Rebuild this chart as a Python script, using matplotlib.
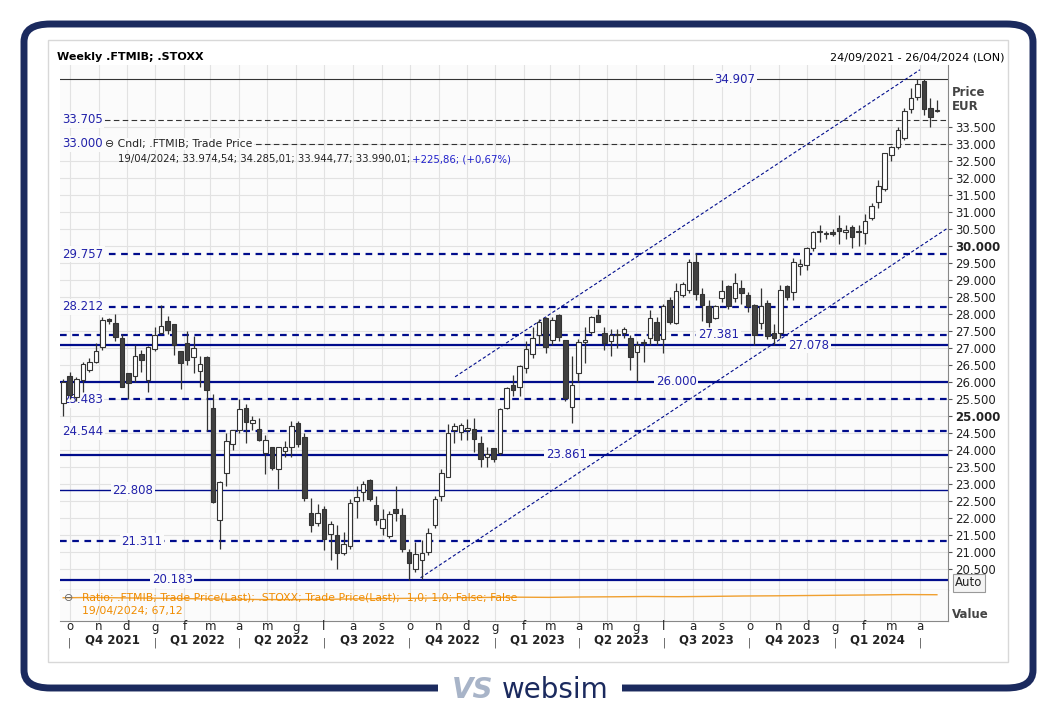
import numpy as np
import pandas as pd
import matplotlib
matplotlib.use("Agg")
import matplotlib.pyplot as plt
from matplotlib.patches import FancyBboxPatch, Rectangle
import matplotlib.transforms as mtransforms

plt.rcParams['font.family'] = ['DejaVu Sans']

start = pd.Timestamp("2021-09-24")
opens = [25.38,26.16,25.57,26.06,26.35,26.6,27.04,27.84,27.73,27.28,26.25,26.18,26.82,26.06,26.96,27.43,27.79,27.7,26.91,27.14,
 26.72,26.33,26.72,25.24,21.94,23.33,24.18,24.59,25.23,24.79,24.61,23.90,24.1,23.43,23.97,24.08,24.78,24.39,22.14,21.86,
 22.25,21.52,21.5,20.96,21.16,22.51,22.76,23.12,22.38,21.70,21.47,22.25,22.09,20.99,20.49,20.76,20.99,21.79,22.63,23.2,
 24.59,24.54,24.6,24.62,24.2,23.8,24.05,23.9,25.23,25.91,25.84,26.4,26.82,27.38,27.87,27.24,27.97,27.23,25.26,26.27,
 27.17,27.48,27.97,27.43,27.19,27.38,27.45,27.3,26.89,27.13,27.28,27.75,27.25,28.41,27.73,28.56,28.69,29.52,28.58,28.23,
 27.87,28.46,28.82,28.46,28.75,28.56,28.26,27.73,28.33,27.45,27.43,28.82,28.63,29.42,29.44,29.93,30.40,30.34,30.42,30.52,
 30.40,30.55,30.43,30.39,30.81,31.3,31.67,32.67,32.9,33.17,34.02,34.39,34.85,34.05,33.97]
closes = [26.01,25.62,26.08,26.53,26.58,26.91,27.82,27.78,27.33,25.86,25.96,26.76,26.63,27.04,27.38,27.65,27.53,27.09,26.57,26.63,
 26.99,26.53,25.76,22.48,23.07,24.25,24.59,25.20,24.83,24.88,24.29,24.29,23.48,24.08,24.09,24.69,24.18,22.58,21.80,22.14,
 21.37,21.81,20.96,21.23,22.43,22.61,23.0,22.55,21.94,21.96,22.11,22.14,21.08,20.67,20.93,20.96,21.57,22.55,23.31,24.49,
 24.69,24.74,24.64,24.31,23.73,23.87,23.73,25.2,25.81,25.76,26.47,26.96,27.28,27.75,27.02,27.82,27.31,25.52,25.91,27.16,
 27.22,27.9,27.75,27.14,27.38,27.42,27.55,26.73,27.08,27.17,27.87,27.22,28.23,27.75,28.68,28.87,29.52,28.59,28.26,27.77,
 28.23,28.68,28.23,28.9,28.6,28.23,27.38,28.23,27.35,27.3,28.7,28.51,29.52,29.47,29.93,30.42,30.43,30.37,30.35,30.45,
 30.47,30.27,30.40,30.72,31.18,31.77,32.72,32.92,33.41,33.98,34.34,34.76,34.02,33.78,33.99]
highs = [26.1,26.3,26.15,26.6,26.7,27.15,27.9,27.88,28.0,27.4,26.25,27.1,26.95,27.05,27.6,28.25,27.95,27.7,26.92,27.5,
 27.35,26.75,26.75,25.65,23.1,24.5,24.6,25.5,25.35,25.0,24.95,24.45,24.1,24.1,24.25,24.85,24.85,24.5,22.6,22.4,
 22.35,21.9,21.8,21.6,22.55,22.95,23.1,23.15,22.65,22.25,22.2,22.95,22.3,21.1,21.3,21.35,21.7,22.65,23.45,24.75,
 24.78,24.8,24.9,24.95,24.4,24.1,24.05,25.22,25.85,26.2,26.5,27.2,27.6,27.85,27.9,27.9,28.0,27.23,26.75,27.25,
 27.6,27.95,28.15,27.6,27.55,27.55,27.6,27.38,27.2,27.25,28.1,27.9,28.3,28.5,28.9,28.95,29.6,29.8,28.75,28.4,
 28.25,29.0,28.85,29.2,29.0,28.65,28.3,28.75,28.4,27.7,28.85,28.85,29.65,29.6,29.98,30.45,30.6,30.45,30.5,30.9,
 30.6,30.6,30.6,30.93,31.25,31.95,32.72,32.95,33.5,34.05,34.65,34.9,34.91,34.35,34.29]
lows = [25.0,25.5,25.45,25.7,26.3,26.55,26.95,27.7,27.2,25.85,25.5,26.0,26.3,25.7,26.9,27.4,27.4,26.8,25.8,26.5,
 26.25,25.85,24.55,22.45,21.1,22.95,24.0,24.5,24.2,24.6,24.25,23.3,23.4,22.85,23.8,23.8,24.1,22.5,21.6,21.75,
 21.05,20.75,20.5,20.9,21.1,22.0,22.5,22.5,21.8,21.5,21.4,21.9,21.0,20.18,20.4,20.2,20.9,21.7,22.5,23.2,
 24.2,24.3,24.3,23.95,23.5,23.5,23.65,23.85,25.2,25.6,25.6,26.25,26.7,27.1,26.85,27.1,27.2,25.45,24.8,26.0,
 26.55,27.4,27.75,26.95,26.75,27.0,27.3,26.35,26.0,26.6,27.1,27.1,26.85,27.7,27.7,28.5,28.6,28.4,27.8,27.6,
 27.85,28.35,28.15,28.35,28.3,28.05,27.1,27.55,27.25,27.1,27.3,28.4,28.4,29.15,29.3,29.85,30.1,30.2,30.3,30.05,
 30.2,29.95,30.0,30.05,30.75,31.1,31.6,32.5,32.85,33.1,33.9,34.3,33.85,33.5,33.94]

ratio_vals = [64.0,64.3,63.8,63.5,63.0,62.6,62.2,62.0,62.3,62.8,63.2,63.5,64.0,64.3,64.6,64.4,64.8,65.0,65.3,65.1,
 65.4,65.8,66.0,66.3,66.6,66.9,67.3,67.12]

levels = [34.907,33.705,33.000,29.757,28.212,27.381,27.078,26.000,25.483,24.544,23.861,22.808,21.311,20.183]
level_styles = ['thin_solid_k','thin_dash_k','thin_dash_k','dash','dash','dash','solid','solid','dash','dash','solid','thin_solid','dash','solid']
level_label_x = [103,-0.2,-0.2,-0.2,-0.2,100.5,114.3,94,-0.2,-0.2,77.2,10.7,12.1,16.7]
channel_upper = ([60.1,131.4],[26.15,35.18])
channel_lower = ([54.8,135.7],[20.24,30.53])

month_letters = {1:'g',2:'f',3:'m',4:'a',5:'m',6:'g',7:'l',8:'a',9:'s',10:'o',11:'n',12:'d'}

W, H = 1057, 712
fig = plt.figure(figsize=(W/100, H/100), dpi=100)
fig.patch.set_facecolor('white')
NAVY = '#1b2a5e'
def fx(x): return x/W
def fy(y): return 1-y/H

frame = FancyBboxPatch((fx(24), fy(688)), fx(1033)-fx(24), fy(24)-fy(688),
    boxstyle="round,pad=0,rounding_size=0.025", transform=fig.transFigure,
    fc='white', ec=NAVY, lw=5, zorder=-3)
fig.patches.append(frame)
panel = Rectangle((fx(48), fy(662)), fx(1008)-fx(48), fy(40)-fy(662), transform=fig.transFigure,
    fc='white', ec='#d8d8d8', lw=1, zorder=-2)
fig.patches.append(panel)
fig.patches.append(Rectangle((fx(438), fy(704)), fx(622)-fx(438), fy(676)-fy(704), transform=fig.transFigure,
    fc='white', ec='none', zorder=-1))
fig.text(fx(452), fy(690), 'VS', fontsize=20, style='italic', color='#a8b4c8', weight='bold', va='center')
fig.text(fx(502), fy(690), 'websim', fontsize=20, color=NAVY, va='center')

ax = fig.add_axes([fx(60), fy(590), fx(948)-fx(60), fy(65)-fy(590)])
axr = fig.add_axes([fx(60), fy(621), fx(948)-fx(60), fy(590)-fy(621)], sharex=ax)
ax.set_zorder(2); axr.set_zorder(2)
n = len(closes)
ax.set_facecolor('#fbfbfb')
axr.set_facecolor('#fbfbfb')

mstarts = pd.date_range("2021-10-01", "2024-04-01", freq="MS")
midx = [(d - start).days/7 for d in mstarts]
for m in midx:
    ax.axvline(m, color='#e2e2e2', lw=0.8, zorder=0)
    axr.axvline(m, color='#e2e2e2', lw=0.8, zorder=0)
ticks = np.arange(20.5, 33.51, 0.5)
for t in ticks:
    ax.axhline(t, color='#e2e2e2', lw=0.8, zorder=0)

for lv, st, lx in zip(levels, level_styles, level_label_x):
    if st == 'thin_solid_k':
        ax.axhline(lv, color='#333333', lw=0.8, zorder=1)
    elif st == 'thin_dash_k':
        ax.axhline(lv, color='#333333', lw=0.8, ls=(0,(5,3)), zorder=1)
    elif st == 'dash':
        ax.axhline(lv, color='#000c8c', lw=1.6, ls=(0,(3,2.5)), zorder=1)
    elif st == 'solid':
        ax.axhline(lv, color='#000c8c', lw=1.6, zorder=1)
    else:
        ax.axhline(lv, color='#000c8c', lw=1.0, zorder=1)
    lab = f"{lv:,.3f}".replace(',', '.')
    ha = 'left' if lx < 0 else 'center'
    ax.text(lx, lv, lab, color='#2222aa', fontsize=8.5, ha=ha, va='center', zorder=2,
            bbox=dict(fc='#fbfbfb', ec='none', pad=1.2))

ax.plot(*channel_upper, color='#000c8c', lw=0.8, ls=(0,(3,2)), zorder=1)
ax.plot(*channel_lower, color='#000c8c', lw=0.8, ls=(0,(3,2)), zorder=1)

bw = 0.7
for i in range(n):
    o, c, h, l = opens[i], closes[i], highs[i], lows[i]
    up = c >= o
    ax.vlines(i, l, h, color='#333333', lw=0.9, zorder=3)
    lo_b, hi_b = min(o, c), max(o, c)
    ax.add_patch(Rectangle((i-bw/2, lo_b), bw, max(hi_b-lo_b, 0.03),
                 fc='white' if up else '#404040', ec='#333333', lw=0.8, zorder=4))

ax.set_xlim(-0.5, 135.7)
ax.set_ylim(19.88, 35.32)
ax.yaxis.tick_right()
ax.set_yticks(ticks)
ax.set_yticklabels([f"{t:,.3f}".replace(',', '.') for t in ticks], fontsize=8.5, color='#222222')
for lbl, t in zip(ax.get_yticklabels(), ticks):
    if abs(t-30) < 1e-6 or abs(t-25) < 1e-6:
        lbl.set_fontweight('bold')
ax.tick_params(axis='y', length=3, pad=2, colors='#555555', labelcolor='#222222')
ax.tick_params(axis='x', bottom=False, labelbottom=False)
for s in ['top', 'left']:
    ax.spines[s].set_visible(False)
ax.spines['right'].set_color('#888888')
ax.spines['bottom'].set_color('#888888')

ridx = np.linspace(0, n-1, len(ratio_vals))
axr.plot(ridx, ratio_vals, color='#f0a030', lw=1.0)
axr.set_ylim(40, 72)
axr.set_yticks([])
axr.tick_params(axis='x', bottom=False, labelbottom=False)
for s in ['top', 'left']:
    axr.spines[s].set_visible(False)
axr.spines['right'].set_color('#888888')
axr.spines['bottom'].set_color('#888888')

trans = mtransforms.blended_transform_factory(axr.transData, fig.transFigure)
for d, m in zip(mstarts, midx):
    axr.text(m, fy(627), month_letters[d.month], transform=trans, ha='center', va='center',
             fontsize=8.5, color='#222222', clip_on=False)
    if d.month in (1, 4, 7, 10):
        axr.text(m, fy(643), '|', transform=trans, ha='center', va='center', fontsize=7, color='#444444', clip_on=False)
        qend = d + pd.DateOffset(months=3)
        if (qend - start).days/7 > n + 4:
            continue
        mid = ((d - start).days/7 + (qend - start).days/7) / 2
        q = (d.month-1)//3 + 1
        axr.text(mid, fy(640), f"Q{q} {d.year}", transform=trans, ha='center', va='center',
                 fontsize=8.5, weight='bold', color='#222222', clip_on=False)

fig.text(fx(57), fy(57), 'Weekly .FTMIB; .STOXX', fontsize=8, weight='bold', va='center')
fig.text(fx(1005), fy(57), '24/09/2021 - 26/04/2024 (LON)', fontsize=8, ha='right', va='center')
fig.text(fx(952), fy(92), 'Price', fontsize=8.5, weight='bold', color='#444444', va='center')
fig.text(fx(952), fy(106), 'EUR', fontsize=8.5, weight='bold', color='#444444', va='center')
fig.text(fx(952), fy(614), 'Value', fontsize=8.5, weight='bold', color='#444444', va='center')
fig.text(fx(955), fy(583), 'Auto', fontsize=8.5, color='#222222', va='center',
         bbox=dict(fc='#f4f4f4', ec='#999999', pad=1.5, lw=0.8))
fig.text(fx(105), fy(144), '⊖ Cndl; .FTMIB; Trade Price', fontsize=7.8, color='#222222', va='center', zorder=5,
         bbox=dict(fc='#fbfbfb', ec='none', pad=1))
fig.text(fx(118), fy(159), '19/04/2024; 33.974,54; 34.285,01; 33.944,77; 33.990,01;', fontsize=7.3, color='#222222', va='center', zorder=5)
fig.text(fx(412), fy(159), '+225,86; (+0,67%)', fontsize=7.3, color='#2222cc', va='center', zorder=5)
fig.text(fx(64), fy(598), '⊖', fontsize=8, color='#666666', va='center', zorder=5)
fig.text(fx(82), fy(598), 'Ratio; .FTMIB; Trade Price(Last); .STOXX; Trade Price(Last);  1,0; 1,0; False; False',
         fontsize=7.8, color='#f08c00', va='center', zorder=5)
fig.text(fx(82), fy(611), '19/04/2024; 67,12', fontsize=7.8, color='#f08c00', va='center', zorder=5)

fig.savefig('out.png', dpi=100)
